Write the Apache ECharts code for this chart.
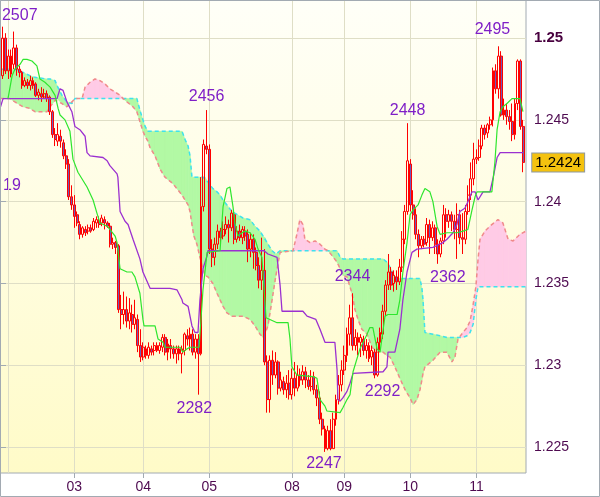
<!DOCTYPE html>
<html><head><meta charset="utf-8">
<script src="https://cdn.jsdelivr.net/npm/echarts@6/dist/echarts.min.js"></script>
<style>html,body{margin:0;padding:0;background:#fff}#c{width:600px;height:497px}</style>
</head><body><div id="c"></div>
<script>
// ---------- data ----------
const N = 192; // hourly slots on the x axis
const dayTickIndex = [27, 52, 76, 106, 125, 149, 173];
const dayTickLabel = ['03', '04', '05', '08', '09', '10', '11'];
const extraGridIndex = [3];
const priceTicks = [1.225, 1.23, 1.235, 1.24, 1.245, 1.25];

// [open, close, low, high]; null = no bar
const ohlc = [null,
[1.2477,1.2500,1.2475,1.2507],[1.2500,1.2480,1.2478,1.2503],[1.2480,1.2489,1.2475,1.2493],[1.2489,1.2478,1.2476,1.2493],
[1.2484,1.2494,1.2481,1.2504],[1.2494,1.2481,1.2477,1.2496],[1.2481,1.2479,1.2476,1.2483],[1.2479,1.2471,1.2469,1.2480],
[1.2471,1.2474,1.2470,1.2476],[1.2473,1.2471,1.2469,1.2475],[1.2471,1.2474,1.2468,1.2477],[1.2474,1.2471,1.2469,1.2476],
[1.2472,1.2465,1.2464,1.2473],[1.2465,1.2467,1.2462,1.2469],[1.2466,1.2464,1.2461,1.2470],[1.2464,1.2466,1.2463,1.2469],
[1.2466,1.2463,1.2461,1.2468],[1.2464,1.2455,1.2453,1.2465],[1.2455,1.2441,1.2439,1.2456],[1.2441,1.2438,1.2434,1.2445],
[1.2437,1.2441,1.2434,1.2448],[1.2440,1.2437,1.2433,1.2444],[1.2436,1.2428,1.2426,1.2438],[1.2428,1.2423,1.2420,1.2432],
[1.2423,1.2403,1.2401,1.2426],[1.2403,1.2398,1.2395,1.2410],[1.2398,1.2391,1.2384,1.2404],[1.2392,1.2387,1.2385,1.2394],
[1.2386,1.2380,1.2377,1.2388],[1.2380,1.2384,1.2378,1.2385],[1.2383,1.2381,1.2379,1.2385],[1.2382,1.2384,1.2380,1.2386],
[1.2384,1.2382,1.2381,1.2386],[1.2383,1.2388,1.2382,1.2390],[1.2387,1.2389,1.2384,1.2391],[1.2388,1.2386,1.2384,1.2391],
[1.2387,1.2390,1.2385,1.2392],[1.2389,1.2387,1.2383,1.2391],[1.2387,1.2385,1.2384,1.2388],[1.2385,1.2374,1.2372,1.2387],
[1.2374,1.2375,1.2371,1.2378],[1.2375,1.2372,1.2368,1.2376],[1.2373,1.2334,1.2332,1.2374],[1.2334,1.2331,1.2322,1.2343],
[1.2331,1.2334,1.2325,1.2345],[1.2334,1.2327,1.2323,1.2342],[1.2327,1.2332,1.2322,1.2341],[1.2331,1.2325,1.2320,1.2337],
[1.2325,1.2329,1.2322,1.2340],[1.2328,1.2312,1.2308,1.2331],[1.2312,1.2305,1.2302,1.2322],[1.2305,1.2311,1.2303,1.2314],
[1.2310,1.2306,1.2304,1.2312],[1.2306,1.2311,1.2304,1.2314],[1.2310,1.2308,1.2306,1.2312],[1.2309,1.2312,1.2306,1.2314],
[1.2312,1.2309,1.2308,1.2314],[1.2309,1.2312,1.2307,1.2314],[1.2311,1.2317,1.2308,1.2319],[1.2317,1.2308,1.2306,1.2319],
[1.2308,1.2313,1.2303,1.2316],[1.2312,1.2310,1.2304,1.2316],[1.2310,1.2307,1.2304,1.2312],[1.2307,1.2310,1.2301,1.2312],
[1.2310,1.2307,1.2303,1.2312],[1.2307,1.2310,1.2295,1.2312],[1.2309,1.2319,1.2306,1.2320],[1.2318,1.2316,1.2312,1.2322],
[1.2316,1.2319,1.2309,1.2323],[1.2319,1.2308,1.2306,1.2322],[1.2308,1.2316,1.2304,1.2319],[1.2316,1.2307,1.2282,1.2319],
[1.2307,1.2397,1.2306,1.2415],[1.2397,1.2435,1.2394,1.2438],[1.2434,1.2432,1.2429,1.2456],[1.2432,1.2371,1.2368,1.2435],
[1.2371,1.2366,1.2360,1.2377],[1.2366,1.2374,1.2361,1.2378],[1.2374,1.2382,1.2371,1.2386],[1.2382,1.2378,1.2374,1.2384],
[1.2379,1.2383,1.2377,1.2388],[1.2383,1.2386,1.2380,1.2391],[1.2386,1.2384,1.2375,1.2389],[1.2384,1.2393,1.2382,1.2395],
[1.2392,1.2377,1.2374,1.2394],[1.2377,1.2382,1.2375,1.2385],[1.2382,1.2378,1.2376,1.2386],[1.2378,1.2383,1.2374,1.2385],
[1.2382,1.2379,1.2376,1.2385],[1.2380,1.2371,1.2363,1.2383],[1.2371,1.2377,1.2366,1.2381],[1.2377,1.2369,1.2359,1.2380],
[1.2369,1.2361,1.2358,1.2372],[1.2361,1.2352,1.2347,1.2366],[1.2352,1.2358,1.2346,1.2378],[1.2358,1.2302,1.2300,1.2371],
[1.2302,1.2279,1.2271,1.2306],[1.2279,1.2303,1.2271,1.2306],[1.2303,1.2294,1.2288,1.2309],[1.2294,1.2302,1.2292,1.2308],
[1.2302,1.2286,1.2282,1.2303],[1.2286,1.2291,1.2284,1.2296],[1.2290,1.2285,1.2282,1.2293],[1.2285,1.2289,1.2280,1.2294],
[1.2289,1.2282,1.2279,1.2297],[1.2282,1.2292,1.2279,1.2298],[1.2292,1.2286,1.2281,1.2302],[1.2286,1.2294,1.2284,1.2300],
[1.2294,1.2291,1.2287,1.2298],[1.2291,1.2296,1.2288,1.2300],[1.2296,1.2291,1.2286,1.2299],[1.2291,1.2287,1.2285,1.2294],
[1.2287,1.2293,1.2284,1.2297],[1.2293,1.2285,1.2282,1.2296],[1.2285,1.2280,1.2275,1.2288],[1.2280,1.2267,1.2264,1.2284],
[1.2267,1.2261,1.2257,1.2271],[1.2261,1.2249,1.2247,1.2263],[1.2249,1.2260,1.2248,1.2263],[1.2260,1.2249,1.2248,1.2267],
[1.2249,1.2267,1.2249,1.2271],[1.2267,1.2279,1.2263,1.2282],[1.2279,1.2288,1.2276,1.2294],[1.2288,1.2297,1.2284,1.2303],
[1.2297,1.2306,1.2294,1.2312],[1.2306,1.2319,1.2302,1.2323],[1.2319,1.2329,1.2312,1.2337],[1.2329,1.2312,1.2309,1.2344],
[1.2312,1.2317,1.2309,1.2322],[1.2317,1.2314,1.2306,1.2320],[1.2314,1.2317,1.2305,1.2319],[1.2316,1.2309,1.2306,1.2318],
[1.2309,1.2312,1.2304,1.2316],[1.2312,1.2304,1.2302,1.2314],[1.2305,1.2309,1.2300,1.2312],[1.2308,1.2294,1.2292,1.2310],
[1.2294,1.2314,1.2293,1.2317],[1.2314,1.2320,1.2309,1.2323],[1.2319,1.2333,1.2316,1.2337],[1.2333,1.2349,1.2330,1.2352],
[1.2349,1.2357,1.2346,1.2368],[1.2357,1.2349,1.2346,1.2360],[1.2350,1.2355,1.2345,1.2358],[1.2354,1.2351,1.2346,1.2358],
[1.2351,1.2360,1.2349,1.2365],[1.2360,1.2377,1.2357,1.2382],[1.2377,1.2394,1.2374,1.2398],[1.2394,1.2425,1.2392,1.2448],
[1.2423,1.2398,1.2394,1.2426],[1.2398,1.2392,1.2389,1.2407],[1.2392,1.2380,1.2377,1.2396],[1.2380,1.2373,1.2366,1.2383],
[1.2373,1.2377,1.2371,1.2379],[1.2377,1.2374,1.2372,1.2379],[1.2375,1.2386,1.2373,1.2390],[1.2386,1.2378,1.2368,1.2389],
[1.2378,1.2384,1.2376,1.2388],[1.2384,1.2374,1.2368,1.2386],[1.2374,1.2368,1.2362,1.2377],[1.2368,1.2376,1.2366,1.2378],
[1.2376,1.2392,1.2374,1.2398],[1.2392,1.2388,1.2378,1.2396],[1.2388,1.2392,1.2384,1.2395],[1.2392,1.2388,1.2382,1.2394],
[1.2388,1.2383,1.2377,1.2392],[1.2383,1.2392,1.2365,1.2399],[1.2392,1.2378,1.2374,1.2395],[1.2378,1.2377,1.2368,1.2393],
[1.2377,1.2394,1.2374,1.2398],[1.2394,1.2404,1.2392,1.2410],[1.2404,1.2414,1.2401,1.2424],[1.2414,1.2426,1.2410,1.2436],
[1.2426,1.2427,1.2423,1.2432],[1.2427,1.2434,1.2425,1.2438],[1.2434,1.2445,1.2432,1.2447],[1.2445,1.2441,1.2438,1.2447],
[1.2442,1.2447,1.2439,1.2448],[1.2447,1.2450,1.2444,1.2452],[1.2450,1.2480,1.2446,1.2482],[1.2480,1.2469,1.2466,1.2484],
[1.2469,1.2489,1.2463,1.2495],[1.2489,1.2453,1.2452,1.2492],[1.2453,1.2456,1.2450,1.2463],[1.2456,1.2452,1.2447,1.2460],
[1.2452,1.2449,1.2444,1.2456],[1.2449,1.2441,1.2437,1.2460],[1.2441,1.2460,1.2438,1.2463],[1.2460,1.2486,1.2456,1.2487],
[1.2486,1.2446,1.2444,1.2487],[1.2446,1.2424,1.2418,1.2450],
null];

// Tenkan (green) and Kijun (purple): [slot, price]
const tenkan = [[2.9,1.2463],[4.4,1.2477],[5.4,1.2481],[7.3,1.2484],[8.4,1.2487],[9.8,1.2487],[11.6,1.2486],[13.4,1.2483],[14.5,1.2475],[16.3,1.2473],[18.2,1.2470],[20.0,1.2465],[21.1,1.2457],[21.8,1.2453],[23.6,1.2450],[24.3,1.2449],[25.4,1.2443],[26.5,1.2426],[28.3,1.2418],[31.6,1.2409],[33.8,1.2401],[35.2,1.2393],[36.3,1.2387],[38.9,1.2385],[39.9,1.2383],[41.8,1.2379],[42.5,1.2375],[43.6,1.2359],[46.1,1.2357],[47.9,1.2357],[49.0,1.2354],[50.8,1.2344],[51.9,1.2328],[52.3,1.2324],[56.3,1.2324],[57.4,1.2316],[59.2,1.2314],[59.9,1.2311],[65.4,1.2311],[66.4,1.2308],[67.9,1.2310],[69.0,1.2311],[72.3,1.2311],[73.7,1.2346],[75.2,1.2369],[79.9,1.2370],[81.0,1.2397],[82.4,1.2408],[83.5,1.2409],[84.6,1.2397],[85.3,1.2387],[86.4,1.2379],[87.9,1.2381],[89.0,1.2382],[90.8,1.2381],[92.6,1.2377],[93.7,1.2371],[95.1,1.2366],[95.5,1.2357],[96.6,1.2329],[100.6,1.2326],[104.6,1.2326],[105.3,1.2316],[106.0,1.2299],[107.8,1.2294],[113.7,1.2293],[115.1,1.2292],[116.2,1.2279],[118.0,1.2275],[118.7,1.2272],[123.5,1.2271],[124.5,1.2274],[126.0,1.2279],[127.1,1.2282],[128.2,1.2296],[130.7,1.2310],[133.3,1.2319],[134.3,1.2323],[135.4,1.2323],[136.9,1.2310],[138.0,1.2308],[139.8,1.2330],[140.9,1.2331],[144.2,1.2331],[145.2,1.2340],[146.3,1.2357],[147.8,1.2375],[148.9,1.2392],[150.0,1.2395],[151.8,1.2398],[153.2,1.2404],[154.3,1.2408],[156.1,1.2406],[157.2,1.2400],[158.7,1.2385],[159.8,1.2380],[162.3,1.2381],[165.9,1.2381],[168.1,1.2382],[169.9,1.2383],[171.4,1.2395],[172.5,1.2403],[173.2,1.2406],[176.1,1.2406],[178.6,1.2406],[179.7,1.2424],[180.5,1.2444],[181.6,1.2455],[182.6,1.2458],[184.1,1.2460],[185.9,1.2463],[188.8,1.2463],[189.9,1.2455]];
const kijun = [[0,1.2457],[1.1,1.2463],[20.7,1.2463],[21.8,1.2469],[22.9,1.2468],[24.3,1.2461],[26.1,1.2455],[27.2,1.2446],[29.0,1.2444],[30.9,1.2440],[31.6,1.2430],[32.7,1.2428],[37.4,1.2427],[38.9,1.2425],[39.9,1.2422],[42.5,1.2417],[42.8,1.2415],[43.6,1.2394],[45.4,1.2388],[46.5,1.2386],[48.3,1.2377],[50.8,1.2365],[51.9,1.2357],[54.5,1.2347],[61.7,1.2347],[64.3,1.2346],[66.1,1.2340],[66.4,1.2338],[68.3,1.2336],[69.0,1.2330],[69.7,1.2324],[70.8,1.2320],[71.9,1.2320],[72.6,1.2340],[73.7,1.2359],[75.2,1.2367],[75.5,1.2370],[95.9,1.2370],[97.3,1.2368],[100.6,1.2366],[101.7,1.2349],[102.4,1.2333],[110.0,1.2333],[111.5,1.2330],[114.7,1.2328],[116.2,1.2322],[118.0,1.2314],[121.6,1.2314],[122.4,1.2297],[122.7,1.2279],[123.5,1.2278],[124.5,1.2280],[126.0,1.2284],[127.1,1.2289],[128.2,1.2295],[139.1,1.2296],[140.5,1.2299],[140.9,1.2308],[143.4,1.2308],[145.2,1.2322],[146.3,1.2340],[147.8,1.2357],[149.6,1.2369],[151.4,1.2371],[157.2,1.2372],[160.9,1.2375],[162.3,1.2377],[164.5,1.2381],[165.9,1.2386],[167.0,1.2394],[168.8,1.2396],[169.9,1.2400],[171.4,1.2406],[172.5,1.2406],[173.6,1.2401],[175.4,1.2406],[177.9,1.2406],[179.0,1.2414],[180.5,1.2427],[181.6,1.2430],[184.1,1.2430],[189.9,1.2430]];

// Cloud: Senkou span A (cyan) and span B (salmon) at shared slots
const cloudX = [0,3.6,5.4,8.4,10.9,12.7,17.1,18.2,20.0,20.7,22.5,24.3,26.1,27.2,29.0,29.8,30.9,32.7,34.5,36.3,38.1,39.9,41.8,43.6,44.7,46.1,48.3,49.7,50.8,51.9,52.7,53.7,54.5,56.3,58.1,59.9,62.8,66.1,67.2,68.3,69.0,69.7,70.4,71.5,72.6,73.7,74.4,75.5,77.3,78.8,79.9,81.0,82.4,84.2,88.2,90.8,92.6,94.4,95.5,96.2,97.3,98.8,100.2,101.7,106.4,107.8,108.9,110.0,110.7,112.6,114.4,116.2,118.0,119.1,120.6,122.4,123.5,124.5,126.0,127.8,128.9,130.0,131.4,133.3,135.1,136.9,139.1,140.5,141.6,143.4,145.2,147.1,148.9,150.0,151.4,152.5,153.2,153.6,154.3,157.2,159.8,162.3,164.1,165.2,166.3,168.1,169.6,170.7,171.8,172.8,173.6,174.3,176.1,177.9,180.8,182.6,184.5,186.3,188.8,191.0];
const spanA = [1.2481,1.2481,1.2481,1.2479,1.2477,1.2476,1.2475,1.2475,1.2474,1.2471,1.2465,1.2461,1.2460,1.2463,1.2463,1.2463,1.2463,1.2463,1.2463,1.2463,1.2463,1.2463,1.2463,1.2463,1.2463,1.2463,1.2463,1.2463,1.2456,1.2450,1.2446,1.2443,1.2443,1.2443,1.2443,1.2443,1.2443,1.2443,1.2438,1.2434,1.2428,1.2415,1.2415,1.2415,1.2415,1.2415,1.2415,1.2412,1.2408,1.2406,1.2404,1.2401,1.2398,1.2394,1.2390,1.2389,1.2385,1.2382,1.2379,1.2378,1.2374,1.2370,1.2368,1.2370,1.2370,1.2370,1.2370,1.2370,1.2370,1.2370,1.2370,1.2370,1.2370,1.2370,1.2370,1.2370,1.2366,1.2365,1.2365,1.2365,1.2365,1.2365,1.2365,1.2365,1.2365,1.2365,1.2365,1.2363,1.2360,1.2354,1.2353,1.2353,1.2353,1.2353,1.2353,1.2353,1.2347,1.2340,1.2320,1.2319,1.2318,1.2317,1.2317,1.2317,1.2317,1.2317,1.2318,1.2320,1.2325,1.2340,1.2348,1.2348,1.2348,1.2348,1.2348,1.2348,1.2348,1.2348,1.2348,1.2348];
const spanB = [1.2463,1.2463,1.2461,1.2458,1.2457,1.2455,1.2455,1.2458,1.2462,1.2463,1.2460,1.2458,1.2461,1.2463,1.2463,1.2463,1.2470,1.2473,1.2475,1.2474,1.2472,1.2469,1.2467,1.2465,1.2463,1.2461,1.2458,1.2455,1.2449,1.2443,1.2440,1.2437,1.2433,1.2428,1.2420,1.2415,1.2411,1.2404,1.2401,1.2398,1.2394,1.2386,1.2379,1.2374,1.2366,1.2359,1.2355,1.2354,1.2350,1.2344,1.2340,1.2336,1.2332,1.2330,1.2330,1.2328,1.2324,1.2319,1.2317,1.2319,1.2324,1.2340,1.2355,1.2369,1.2370,1.2380,1.2389,1.2386,1.2377,1.2375,1.2376,1.2374,1.2371,1.2370,1.2367,1.2363,1.2359,1.2355,1.2354,1.2344,1.2334,1.2328,1.2322,1.2319,1.2311,1.2308,1.2308,1.2306,1.2305,1.2299,1.2292,1.2285,1.2280,1.2276,1.2279,1.2285,1.2291,1.2295,1.2299,1.2303,1.2308,1.2308,1.2302,1.2305,1.2316,1.2320,1.2323,1.2327,1.2337,1.2348,1.2365,1.2377,1.2382,1.2385,1.2389,1.2387,1.2377,1.2376,1.2380,1.2382];

// Marked highs / lows: [slot, price, side]
const extremes = [[1,1.2507,'top'],[75,1.2456,'top'],[72,1.2282,'bottom'],[148,1.2448,'top'],[181,1.2495,'top'],[128,1.2344,'top'],[159,1.2362,'bottom'],[136,1.2292,'bottom'],[118,1.2247,'bottom']];
const extremeShift = [[17,2],[0,0],[-4,1],[0,0],[-6,-4],[0,-4],[10,1],[8,0],[-1,-1]];
const edgeText = '19';

// ---------- chart ----------
const GREEN = '#b2f9a4', PINK = '#ffcbe6';
const LABEL = '#4e0a50', MARK = '#7f1fc7', GRID = '#dfdec6', FRAME = '#a2aab2';
const FONT = 'Liberation Sans, Arial, sans-serif';

const cats = Array.from({length: N}, (_, i) => String(i));
const tickSet = new Set(dayTickIndex);
const gridSet = new Set(dayTickIndex.concat(extraGridIndex));
const lastIdx = ohlc.length - 2;
const lastClose = ohlc[lastIdx][1];
const pipText = p => String(Math.round(p * 10000) % 10000);

const chart = echarts.init(document.getElementById('c'), null, {renderer: 'canvas'});
chart.setOption({
  animation: false,
  backgroundColor: '#ffffff',
  grid: {
    left: 0, top: 0, right: 74, bottom: 24, show: true,
    outerBoundsMode: 'none',
    backgroundColor: new echarts.graphic.LinearGradient(0, 0, 0, 1, [
      {offset: 0, color: '#fffff8'}, {offset: 1, color: '#fffbc8'}]),
    borderColor: FRAME, borderWidth: 1
  },
  xAxis: [{
    type: 'category', data: cats, boundaryGap: false,
    axisLine: {show: false},
    axisTick: {show: true, interval: i => tickSet.has(i), length: 5, lineStyle: {color: FRAME}},
    axisLabel: {interval: i => tickSet.has(i), margin: 7, color: LABEL, fontSize: 14, fontFamily: FONT,
      formatter: (v, i) => { const k = dayTickIndex.indexOf(Number(v)); return k >= 0 ? dayTickLabel[k] : ''; }},
    splitLine: {show: true, interval: i => gridSet.has(i), lineStyle: {color: GRID, width: 1}}
  }, {
    type: 'value', min: 0, max: N - 1, show: false
  }],
  yAxis: [{
    type: 'value', position: 'right', min: 1.22341, max: 1.25233, scale: true,
    axisLine: {show: false},
    axisTick: {show: true, length: 6, customValues: priceTicks, lineStyle: {color: FRAME}},
    axisLabel: {customValues: priceTicks, margin: 8, fontFamily: FONT,
      formatter: v => (Math.abs(v - 1.25) < 1e-9 ? '{b|1.25}' : '{n|' + String(+v.toFixed(4)) + '}'),
      rich: {b: {fontSize: 15, fontWeight: 'bold', color: '#48003f', fontFamily: FONT},
             n: {fontSize: 14, color: LABEL, fontFamily: FONT}}},
    splitLine: {show: true, lineStyle: {color: GRID, width: 1}}
  }],
  series: [
    {
      type: 'custom', name: 'cloud', xAxisIndex: 1, yAxisIndex: 0, z: 1, silent: true,
      data: cloudX.map((x, j) => [x, spanA[j], spanB[j]]),
      encode: {x: 0, y: [1, 2]},
      renderItem: function (params, api) {
        const j = params.dataIndex;
        if (j >= cloudX.length - 1) return null;
        const x0 = cloudX[j], x1 = cloudX[j + 1];
        const a0 = spanA[j], a1 = spanA[j + 1], b0 = spanB[j], b1 = spanB[j + 1];
        const d0 = a0 - b0, d1 = a1 - b1;
        const P = (x, y) => api.coord([x, y]);
        const children = [];
        const poly = (pts, up) => children.push({type: 'polygon', shape: {points: pts},
          style: {fill: up ? GREEN : PINK, stroke: up ? GREEN : PINK, lineWidth: 0.6}});
        if (d0 * d1 >= 0) {
          if (d0 === 0 && d1 === 0) return null;
          poly([P(x0, a0), P(x1, a1), P(x1, b1), P(x0, b0)], d0 + d1 > 0);
        } else {
          const t = d0 / (d0 - d1);
          const xm = x0 + t * (x1 - x0), ym = a0 + t * (a1 - a0);
          poly([P(x0, a0), P(xm, ym), P(x0, b0)], d0 > 0);
          poly([P(xm, ym), P(x1, a1), P(x1, b1)], d1 > 0);
        }
        return {type: 'group', children: children};
      }
    },
    {type: 'line', name: 'spanA', xAxisIndex: 1, z: 2, silent: true, symbol: 'none',
     data: cloudX.map((x, j) => [x, spanA[j]]),
     lineStyle: {color: '#3ee2ee', width: 1.5, type: [4, 3]}},
    {type: 'line', name: 'spanB', xAxisIndex: 1, z: 2, silent: true, symbol: 'none',
     data: cloudX.map((x, j) => [x, spanB[j]]),
     lineStyle: {color: '#f08a8a', width: 1.5, type: [4, 3]}},
    {
      type: 'candlestick', xAxisIndex: 0, yAxisIndex: 0, z: 3, silent: true,
      data: ohlc.map(c => (c ? c : '-')),
      barWidth: 2.4,
      itemStyle: {color: 'rgba(255,255,255,0)', color0: '#6e5cb8',
        borderColor: '#ff0000', borderColor0: '#ff0000', borderColorDoji: '#ff0000', borderWidth: 1}
    },
    {type: 'line', name: 'kijun', xAxisIndex: 1, z: 4, silent: true, symbol: 'none',
     data: kijun, lineStyle: {color: '#9b30d0', width: 1.3}},
    {type: 'line', name: 'tenkan', xAxisIndex: 1, z: 4, silent: true, symbol: 'none',
     data: tenkan, lineStyle: {color: '#2ee62e', width: 1.2},
     markPoint: {
       silent: true, symbol: 'circle', symbolSize: 0, animation: false,
       data: extremes.map((e, k) => ({
         coord: [e[0], e[1]],
         label: {show: true, position: e[2], distance: 5, offset: extremeShift[k],
           formatter: pipText(e[1]),
           color: MARK, fontSize: 16, fontFamily: FONT, textBorderWidth: 0}
       })).concat([{
         coord: [lastIdx, lastClose],
         label: {show: true, position: 'right', distance: 9,
           formatter: lastClose.toFixed(4), color: '#000', fontSize: 15, fontFamily: FONT,
           backgroundColor: '#f4c20f', borderColor: '#8d99a3', borderWidth: 1,
           padding: [2, 3, 1, 3], textBorderWidth: 0}
       }])
     }}
  ],
  graphic: [
    {type: 'text', left: 3, top: 178, silent: true,
     style: {text: edgeText, fill: MARK, font: '16px ' + FONT}},
    {type: 'rect', silent: true, z: 100,
     shape: {x: 0.5, y: 0.5, width: 599, height: 496},
     style: {fill: 'none', stroke: FRAME, lineWidth: 1}}
  ]
});
</script></body></html>
